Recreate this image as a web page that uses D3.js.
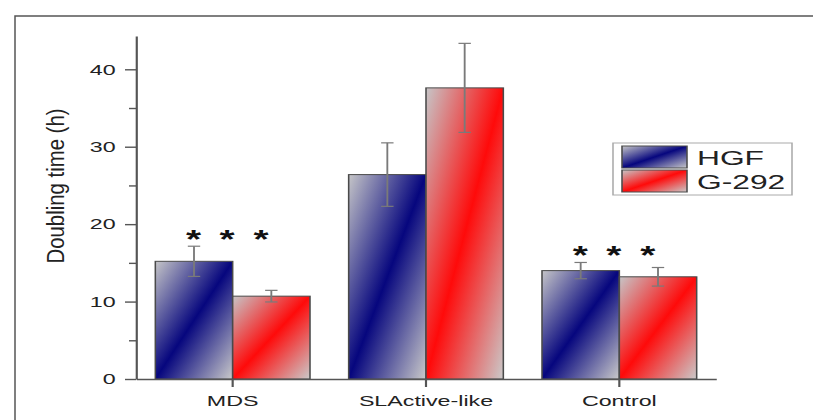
<!DOCTYPE html>
<html>
<head>
<meta charset="utf-8">
<script src="https://cdn.jsdelivr.net/npm/d3@7"></script>
<style>
  body { margin: 0; background: #fff; }
  svg { display: block; font-family: "Liberation Sans", Arial, sans-serif; }
</style>
</head>
<body>
<div id="chart"></div>
<script>
// data
const groups = ['MDS', 'SLActive-like', 'Control'];
const series = ['HGF', 'G-292'];
const hgfMeans = [15.2, 26.4, 14.0];
const hgfErrors = [1.95, 4.1, 1.05];
const g292Means = [10.7, 37.6, 13.2];
const g292Errors = [0.75, 5.75, 1.2];
const starGroups = ['MDS', 'Control'];
const yTicks = [0, 10, 20, 30, 40];
const yMinorTicks = [5, 15, 25, 35];

const width = 813, height = 420;
// the original picture is stretched sideways, so everything is drawn in a squeezed space
const sx = 1.55;

const svg = d3.select('#chart').append('svg')
    .attr('width', width)
    .attr('height', height);

svg.append('rect').attr('width', width).attr('height', height).attr('fill', '#fff');

// frame lines (left and top)
svg.append('path')
    .attr('d', `M15,${height} L15,16 L${width},16`)
    .attr('fill', 'none')
    .attr('stroke', '#555')
    .attr('stroke-width', 1.5);

const defs = svg.append('defs');
function addGradient(id, mid) {
    const grad = defs.append('linearGradient')
        .attr('id', id)
        .attr('x1', 0).attr('y1', 0).attr('x2', 1).attr('y2', 1);
    grad.append('stop').attr('offset', '0%').attr('stop-color', '#c6c6c8');
    grad.append('stop').attr('offset', '50%').attr('stop-color', mid);
    grad.append('stop').attr('offset', '100%').attr('stop-color', '#cacaca');
}
addGradient('gradHGF', '#06067e');
addGradient('gradG292', '#ff0a0a');
const fills = {'HGF': 'url(#gradHGF)', 'G-292': 'url(#gradG292)'};

const g = svg.append('g').attr('transform', `scale(${sx},1)`);

const plotLeft = 136 / sx, plotRight = 716 / sx;
const plotTop = 36, plotBottom = 379;

const x0 = d3.scaleBand().domain(groups).range([plotLeft, plotRight])
    .paddingInner(0.2).paddingOuter(0.1);
const x1 = d3.scaleBand().domain(series).range([0, x0.bandwidth()]);
const y = d3.scaleLinear().domain([0, 44.3]).range([plotBottom, plotTop]);

const table = groups.map((grp, i) => ({
    group: grp,
    values: [
        {series: 'HGF', mean: hgfMeans[i], err: hgfErrors[i]},
        {series: 'G-292', mean: g292Means[i], err: g292Errors[i]}
    ]
}));

// bars
const groupSel = g.selectAll('.grp')
    .data(table)
    .enter().append('g')
    .attr('class', 'grp')
    .attr('transform', d => `translate(${x0(d.group)},0)`);

groupSel.selectAll('rect')
    .data(d => d.values)
    .enter().append('rect')
    .attr('x', d => x1(d.series))
    .attr('y', d => y(d.mean))
    .attr('width', x1.bandwidth())
    .attr('height', d => y(0) - y(d.mean))
    .attr('fill', d => fills[d.series])
    .attr('stroke', '#4a4a4a')
    .attr('stroke-width', 1);

// error bars
const capHalf = 4;
const errSel = groupSel.selectAll('.err')
    .data(d => d.values)
    .enter().append('g')
    .attr('class', 'err')
    .attr('stroke', '#7a7a7a')
    .attr('stroke-width', 1.2);
errSel.append('line')
    .attr('x1', d => x1(d.series) + x1.bandwidth() / 2)
    .attr('x2', d => x1(d.series) + x1.bandwidth() / 2)
    .attr('y1', d => y(d.mean + d.err))
    .attr('y2', d => y(d.mean - d.err));
errSel.append('line')
    .attr('x1', d => x1(d.series) + x1.bandwidth() / 2 - capHalf)
    .attr('x2', d => x1(d.series) + x1.bandwidth() / 2 + capHalf)
    .attr('y1', d => y(d.mean + d.err))
    .attr('y2', d => y(d.mean + d.err));
errSel.append('line')
    .attr('x1', d => x1(d.series) + x1.bandwidth() / 2 - capHalf)
    .attr('x2', d => x1(d.series) + x1.bandwidth() / 2 + capHalf)
    .attr('y1', d => y(d.mean - d.err))
    .attr('y2', d => y(d.mean - d.err));

// significance stars
const starOffsets = [-39 / sx, -5.5 / sx, 28.5 / sx];
groupSel.filter(d => starGroups.includes(d.group))
    .each(function(d) {
        const peak = d3.max(d.values, v => v.mean + v.err);
        d3.select(this).selectAll('.star')
            .data(starOffsets)
            .enter().append('text')
            .attr('class', 'star')
            .attr('x', o => x0.bandwidth() / 2 + o)
            .attr('y', y(peak) - 12 + 14)
            .attr('text-anchor', 'middle')
            .attr('font-size', 25)
            .attr('font-weight', 'bold')
            .attr('fill', '#111')
            .text('*');
    });

// axes
g.append('g')
    .attr('transform', `translate(${plotLeft},0)`)
    .call(d3.axisLeft(y).tickValues(yTicks).tickSize(11 / sx).tickSizeOuter(0).tickPadding(6));
g.append('g')
    .attr('transform', `translate(${plotLeft},0)`)
    .call(d3.axisLeft(y).tickValues(yMinorTicks).tickSize(7 / sx).tickFormat(''))
    .call(a => a.select('.domain').remove());

g.append('g')
    .attr('transform', `translate(0,${plotBottom})`)
    .call(d3.axisBottom(x0).tickSize(8).tickSizeOuter(0).tickPadding(8));

g.selectAll('.domain, .tick line')
    .attr('stroke', '#555')
    .attr('stroke-width', 1.4);
g.selectAll('.tick text')
    .attr('font-size', 15)
    .attr('font-family', '"Liberation Sans", Arial, sans-serif')
    .attr('fill', '#222');

// y axis title
g.append('text')
    .attr('transform', `translate(${64 / sx},186) rotate(-90)`)
    .attr('text-anchor', 'middle')
    .attr('font-size', 15)
    .attr('textLength', 155)
    .attr('lengthAdjust', 'spacingAndGlyphs')
    .attr('fill', '#222')
    .text('Doubling time (h)');

// legend
const legend = g.append('g');
legend.append('rect')
    .attr('x', 613 / sx).attr('y', 143)
    .attr('width', 179 / sx).attr('height', 52)
    .attr('fill', '#fff')
    .attr('stroke', '#aaa')
    .attr('stroke-width', 1);
const legendRows = [
    {name: 'HGF', y: 146},
    {name: 'G-292', y: 170}
];
legend.selectAll('.swatch')
    .data(legendRows)
    .enter().append('rect')
    .attr('x', 622 / sx)
    .attr('y', d => d.y)
    .attr('width', 65 / sx)
    .attr('height', 22)
    .attr('fill', d => fills[d.name])
    .attr('stroke', '#4a4a4a')
    .attr('stroke-width', 1);
legend.selectAll('.label')
    .data(legendRows)
    .enter().append('text')
    .attr('x', 697 / sx)
    .attr('y', d => d.y + 19)
    .attr('font-size', 20.5)
    .attr('fill', '#222')
    .text(d => d.name);
</script>
</body>
</html>
